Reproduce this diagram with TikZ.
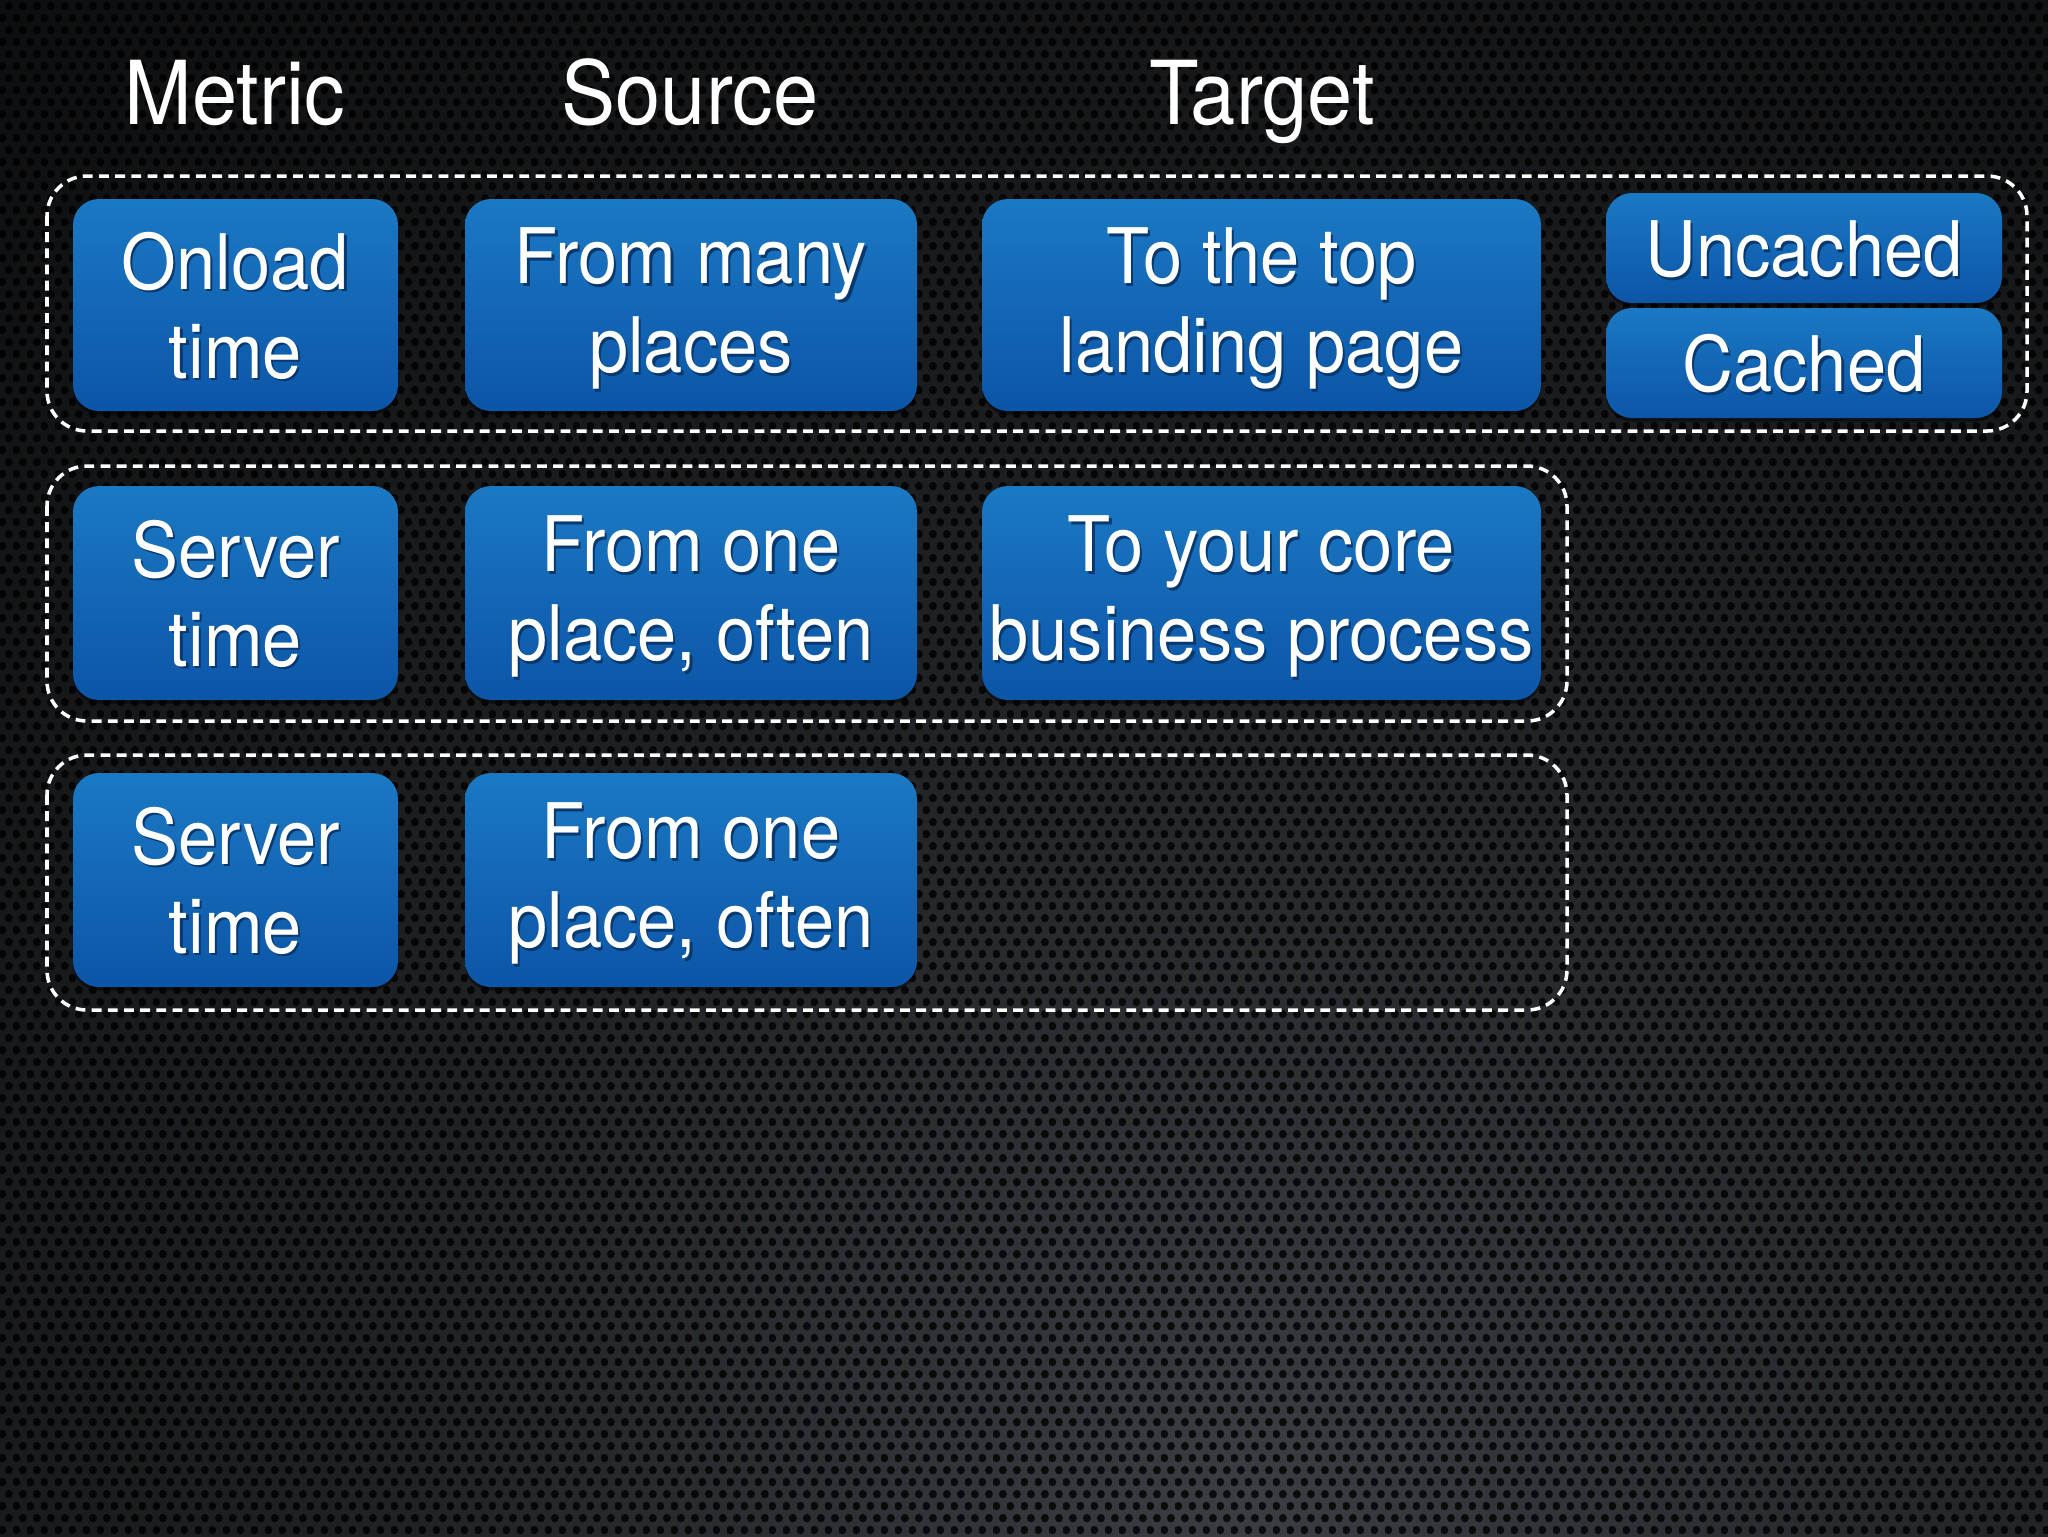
\documentclass[tikz,border=0pt]{standalone}
\usepackage{fontspec}
\setmainfont{TeX Gyre Heros}[FakeStretch=0.92]
\usetikzlibrary{shadows,patterns}

\definecolor{bgdark}{HTML}{0C0D0E}
\definecolor{bgmid}{HTML}{1F2124}
\definecolor{bglight}{HTML}{3A3D42}
\definecolor{boxtop}{HTML}{1B79C3}
\definecolor{boxbot}{HTML}{0C55A7}
\definecolor{txtshadow}{HTML}{08386E}

\pgfdeclareradialshading{bgshade}{\pgfpoint{0bp}{0bp}}{color(0bp)=(bglight); color(11bp)=(bgmid); color(25bp)=(bgdark); color(50bp)=(bgdark)}
% perforated metal: staggered holes
\pgfdeclarepatternformonly{perf}{\pgfpointorigin}{\pgfpoint{4pt}{6.8pt}}{\pgfpoint{4pt}{6.8pt}}{%
  \pgfpathcircle{\pgfpoint{1pt}{1.7pt}}{1.2pt}%
  \pgfpathcircle{\pgfpoint{3pt}{5.1pt}}{1.2pt}%
  \pgfusepath{fill}}

\newcommand\bs{\rule[-2.3pt]{0pt}{21pt}}
\newcommand\sht[1]{\bs\rlap{\raisebox{-0.7pt}{\hspace{0.6pt}\textcolor{txtshadow}{#1}}}#1}

\begin{document}
\begin{tikzpicture}[x=0.1mm,y=-0.1mm,
  box/.style={rounded corners=2.6mm, top color=boxtop, bottom color=boxbot, draw=none,
    text=white, align=center, inner sep=0pt,
    font=\fontsize{21.8}{25.3}\selectfont,
    drop shadow={shadow xshift=0pt, shadow yshift=-0.35mm, opacity=0.45, fill=black}},
  hdr/.style={text=white, inner sep=0pt, font=\fontsize{25.1}{30}\selectfont},
  grp/.style={draw=white, line width=1pt, dash pattern=on 2.8pt off 1.8pt, rounded corners=4mm}]
\useasboundingbox (0,0) rectangle (2048,1536);
\fill[bgdark] (0,0) rectangle (2048,1536);
\begin{scope}
  \clip (0,0) rectangle (2048,1536);
  \shade[shading=bgshade] (1250,1500) circle (2000);
\end{scope}
\fill[pattern=perf, pattern color=black, fill opacity=0.8] (0,0) rectangle (2048,1536);

% headers
\node[hdr, anchor=base] (hmetric) at (235,124) {Metric};
\node[hdr, anchor=base] (hsource) at (690,124) {Source};
\node[hdr, anchor=base] (htarget) at (1262,124) {Target};

% groups
\draw[grp] (47,176) rectangle (2027,431);
\draw[grp] (47,466) rectangle (1567,721);
\draw[grp] (47,755) rectangle (1567,1010);

% row 1
\node[box, minimum width=32.5mm, minimum height=21.2mm] (onload) at (235.5,305) {\sht{Onload}\\\sht{time}};
\node[box, minimum width=45.2mm, minimum height=21.2mm] (many) at (691,305) {\sht{From many}\\\sht{places}};
\node[box, minimum width=55.9mm, minimum height=21.2mm] (top) at (1261.5,305) {\sht{To the top}\\\sht{landing page}};
\node[box, minimum width=39.6mm, minimum height=11mm] (uncached) at (1804,248) {\sht{Uncached}};
\node[box, minimum width=39.6mm, minimum height=11mm] (cached) at (1804,363) {\sht{Cached}};

% row 2
\node[box, minimum width=32.5mm, minimum height=21.4mm] (server1) at (235.5,593) {\sht{Server}\\\sht{time}};
\node[box, minimum width=45.2mm, minimum height=21.4mm] (one1) at (691,593) {\sht{From one}\\\sht{place, often}};
\node[box, minimum width=55.9mm, minimum height=21.4mm] (core) at (1261.5,593) {\sht{To your core}\\\sht{business process}};

% row 3
\node[box, minimum width=32.5mm, minimum height=21.4mm] (server2) at (235.5,880) {\sht{Server}\\\sht{time}};
\node[box, minimum width=45.2mm, minimum height=21.4mm] (one2) at (691,880) {\sht{From one}\\\sht{place, often}};
\end{tikzpicture}
\end{document}
